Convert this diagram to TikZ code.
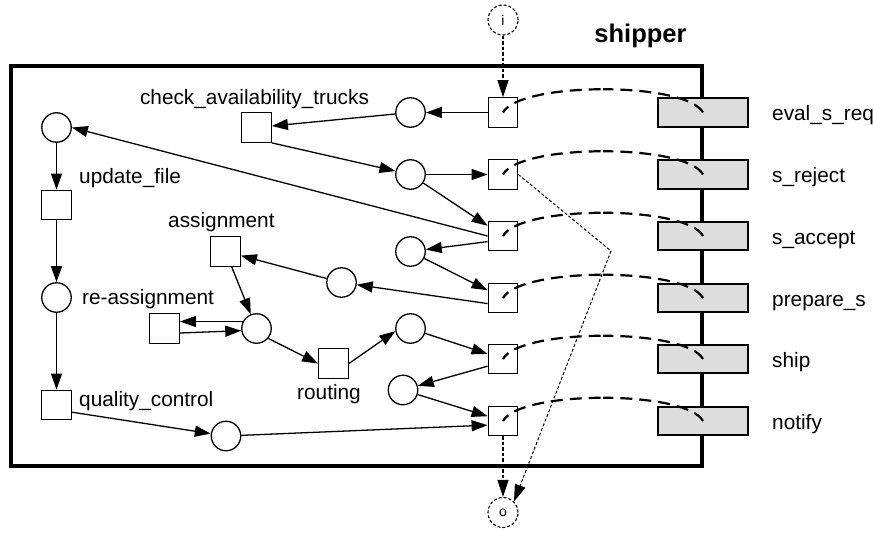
\documentclass[tikz,border=0pt]{standalone}
\usepackage{fontspec}
\setmainfont{Liberation Sans}
\usetikzlibrary{arrows.meta}
\definecolor{portfill}{RGB}{221,221,221}

\begin{document}
\begin{tikzpicture}[x=1pt,y=-1pt,
  every node/.style={font=\fontsize{20.8}{25}\selectfont},
  place/.style={circle,draw,line width=1.3pt,minimum size=29.5pt,inner sep=0pt},
  trans/.style={rectangle,draw,line width=1.3pt,minimum size=29.5pt,inner sep=0pt},
  port/.style={rectangle,draw,line width=2.2pt,fill=portfill,minimum width=89.5pt,minimum height=28.5pt,inner sep=0pt},
  iop/.style={circle,draw,line width=1.1pt,dash pattern=on 3pt off 2pt,minimum size=30pt,inner sep=0pt,font=\fontsize{14}{16}\selectfont},
  lbl/.style={inner sep=0pt,anchor=base west},
  arr/.style={line width=1.3pt,-{Triangle[length=16pt,width=11pt]}},
  dasharr/.style={line width=1.2pt,dash pattern=on 3.5pt off 2pt,-{Triangle[length=17pt,width=11pt]}},
  dotarr/.style={line width=1pt,dash pattern=on 3pt off 2pt,-{Triangle[length=17pt,width=11pt]}},
  arcdash/.style={line width=2.2pt,dash pattern=on 12pt off 7pt}
]
\useasboundingbox (0,0) rectangle (874,532);

% component frame and title
\draw[line width=4pt] (11,66) rectangle (702,466);
\node[anchor=base,font=\fontsize{25.5}{30}\bfseries\selectfont,inner sep=0pt] (title) at (640.5,42.5) {shipper};

% interface ports on the right edge
\foreach \n/\yy/\txt in {1/112.5/eval\_s\_req,2/174.5/s\_reject,3/236/s\_accept,4/298/prepare\_s,5/359/ship,6/421/notify}{
  \node[port] (G\n) at (703,\yy) {};
  \node[lbl] (L\n) at (772,{\yy+8}) {\txt};
  \node[trans] (T\n) at (503,\yy) {};
  \coordinate (M\n) at (603,{\yy-23.25});
}

% places
\node[place] (Ptl) at (56.5,127.5) {};
\node[place] (Pml) at (56.5,297.5) {};
\node[place] (P1) at (410.5,112.5) {};
\node[place] (P2) at (410.5,174.5) {};
\node[place] (P3) at (410.5,251.5) {};
\node[place] (P4) at (341.5,282.5) {};
\node[place] (P5) at (256.5,328.5) {};
\node[place] (P6) at (410.5,328.5) {};
\node[place] (P7) at (403,390) {};
\node[place] (P8) at (226,436) {};

% internal transitions
\node[trans] (check) at (256.5,127.5) {};
\node[trans] (upd) at (56.5,205) {};
\node[trans] (assign) at (225.5,251.5) {};
\node[trans] (reas) at (164.5,328.5) {};
\node[trans] (route) at (333.5,363.5) {};
\node[trans] (qc) at (56.5,405) {};

% transition labels
\node[inner sep=0pt,anchor=base] (lcheck) at (254.5,104) {check\_availability\_trucks};
\node[lbl] (lupd) at (79,183) {update\_file};
\node[lbl] (lassign) at (168,227) {assignment};
\node[lbl] (lreas) at (82,304) {re-assignment};
\node[lbl] (lroute) at (297,399) {routing};
\node[lbl] (lqc) at (79,406.5) {quality\_control};

% input / output
\node[iop] (in) at (503,20) {i};
\node[iop] (out) at (503,512.5) {o};
\coordinate (bend) at (611,251);

% flow arcs
\draw[arr] (T1) -- (P1);
\draw[arr] (P1) -- (check);
\draw[arr] (check.south east) -- (P2);
\draw[arr] (P2) -- (T2);
\draw[arr] (P2) -- (T3);
\draw[arr] (T3.west) -- (Ptl.east);
\draw[arr] (T3.200) -- (P3);
\draw[arr] (P3) -- (T4);
\draw[arr] (T4.200) -- (P4);
\draw[arr] (P4) -- (assign);
\draw[arr] (assign) -- (P5);
\draw[arr] (P5.153) -- (reas.east |- P5.153);
\draw[arr] ([yshift=-4.5pt]reas.east) -- (P5.188);
\draw[arr] (P5.-40) -- (route.west);
\draw[arr] (route.east) -- (P6.190);
\draw[arr] (P6) -- (T5);
\draw[arr] (T5.205) -- (P7);
\draw[arr] (P7) -- (T6);
\draw[arr] (qc.-25) -- (P8);
\draw[arr] (P8) -- (T6.195);
\draw[arr] (Ptl) -- (upd);
\draw[arr] (upd) -- (Pml);
\draw[arr] (Pml) -- (qc);

% environment links
\draw[dasharr] (in) -- (T1);
\draw[dasharr] (T6) -- (out);
\draw[dotarr] (T2.east) -- (bend) -- (out.45);

% bindings between internal transitions and ports
\foreach \n in {1,...,6}{
  \draw[arcdash,dash phase=4pt] (T\n.center) .. controls +(8.5,-15.5) and +(-45.75,0) .. (M\n);
  \draw[arcdash] (G\n.center) .. controls +(-8.5,-15.5) and +(45.75,0) .. (M\n);
}
\end{tikzpicture}
\end{document}
